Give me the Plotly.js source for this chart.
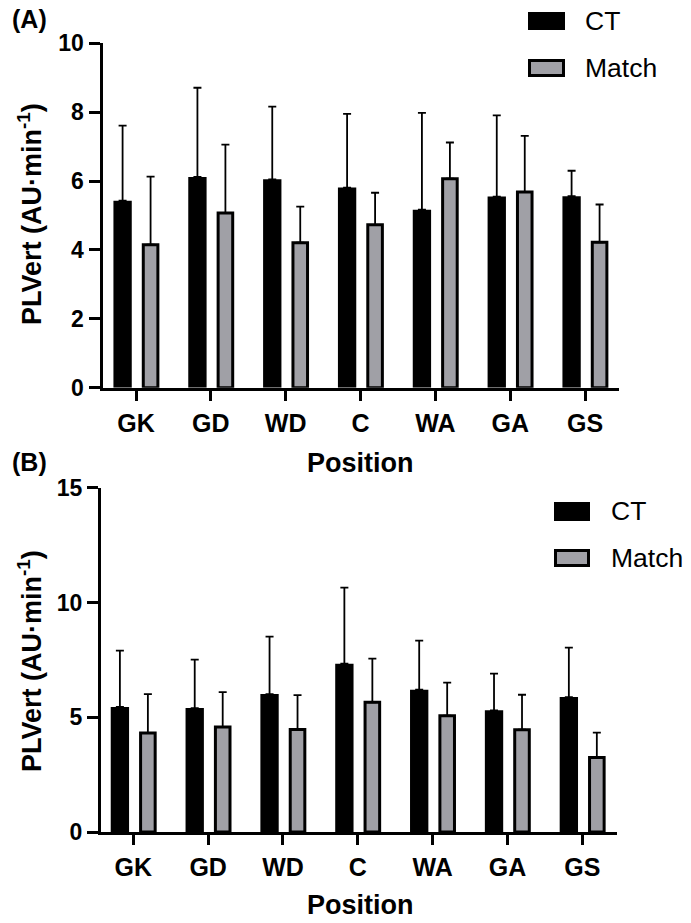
<!DOCTYPE html>
<html>
<head>
<meta charset="utf-8">
<script src="https://cdn.plot.ly/plotly-3.0.1.min.js"></script>
<style>html,body{margin:0;padding:0;background:#fff;}#chart{width:691px;height:923px;}</style>
</head>
<body>
<div id="chart"></div>
<script>
const categories = ['GK', 'GD', 'WD', 'C', 'WA', 'GA', 'GS'];
const seriesNames = ['CT', 'Match'];

// Panel A
const ctMeanA = [5.43, 6.12, 6.05, 5.81, 5.17, 5.55, 5.56];
const ctSdA = [2.18, 2.59, 2.11, 2.14, 2.81, 2.36, 0.74];
const matchMeanA = [4.15, 5.07, 4.21, 4.73, 6.07, 5.68, 4.22];
const matchSdA = [1.98, 1.99, 1.05, 0.93, 1.05, 1.63, 1.10];

// Panel B
const ctMeanB = [5.45, 5.40, 6.01, 7.33, 6.20, 5.30, 5.88];
const ctSdB = [2.45, 2.11, 2.50, 3.32, 2.14, 1.60, 2.15];
const matchMeanB = [4.31, 4.57, 4.47, 5.65, 5.07, 4.46, 3.25];
const matchSdB = [1.70, 1.52, 1.49, 1.90, 1.44, 1.52, 1.08];

const yTitle = '<b>PLVert (AU·min<sup>-1</sup>)</b>';
const xTitle = '<b>Position</b>';

const W = 691, H = 923;
const FONT = 'Liberation Sans, Arial, sans-serif';
const GRAY = '#a0a0a6';
const px = v => v / W;
const py = v => 1 - v / H;

function ctTrace(mean, sd, xa, ya) {
  return {
    type: 'bar', x: categories, y: mean, name: seriesNames[0],
    xaxis: xa, yaxis: ya, width: 0.245, offset: -0.302,
    marker: {color: '#000000', line: {width: 0}},
    error_y: {type: 'data', symmetric: false, array: sd, arrayminus: sd.map(() => 0),
              color: '#000000', thickness: 1.8, width: 4},
    showlegend: false, hoverinfo: 'skip'
  };
}
function matchTrace(mean, sd, xa, ya) {
  return {
    type: 'bar', x: categories, y: mean, name: seriesNames[1],
    xaxis: xa, yaxis: ya, width: 0.195, offset: 0.097,
    marker: {color: GRAY, line: {color: '#000000', width: 3}},
    error_y: {type: 'data', symmetric: false, array: sd, arrayminus: sd.map(() => 0),
              color: '#000000', thickness: 1.8, width: 4},
    showlegend: false, hoverinfo: 'skip'
  };
}

const data = [
  ctTrace(ctMeanA, ctSdA, 'x', 'y'),
  matchTrace(matchMeanA, matchSdA, 'x', 'y'),
  ctTrace(ctMeanB, ctSdB, 'x2', 'y2'),
  matchTrace(matchMeanB, matchSdB, 'x2', 'y2')
];

function xAxis(domain, range, anchor) {
  return {
    domain: domain, range: range, anchor: anchor, type: 'category',
    showline: true, linecolor: '#000', linewidth: 3, mirror: false,
    ticks: 'outside', ticklen: 10, tickwidth: 3, tickcolor: '#000',
    showgrid: false, zeroline: false, fixedrange: true,
    tickfont: {family: FONT, size: 25, color: '#000', weight: 'bold'},
    ticklabelstandoff: 1
  };
}
function yAxis(domain, range, dtick, anchor) {
  return {
    domain: domain, range: range, dtick: dtick, tick0: 0, anchor: anchor,
    showline: true, linecolor: '#000', linewidth: 3,
    ticks: 'outside', ticklen: 11, tickwidth: 3, tickcolor: '#000',
    showgrid: false, zeroline: false, fixedrange: true,
    tickfont: {family: FONT, size: 23, color: '#000', weight: 'bold'}
  };
}

function legendShapes(x0, x1, yCT, yM) {
  return [
    {type: 'rect', xref: 'paper', yref: 'paper', x0: px(x0), x1: px(x1), y0: py(yCT[0]), y1: py(yCT[1]),
     fillcolor: '#000', line: {width: 0}},
    {type: 'rect', xref: 'paper', yref: 'paper', x0: px(x0 + 1.5), x1: px(x1 - 1.5), y0: py(yM[0] + 1.5), y1: py(yM[1] - 1.5),
     fillcolor: GRAY, line: {color: '#000', width: 3}}
  ];
}
function legendTexts(x, yCT, yM) {
  return [
    {text: seriesNames[0], xref: 'paper', yref: 'paper', x: px(x), y: py(yCT), xanchor: 'left', yanchor: 'middle',
     showarrow: false, font: {family: FONT, size: 26.5, color: '#000'}},
    {text: seriesNames[1], xref: 'paper', yref: 'paper', x: px(x), y: py(yM), xanchor: 'left', yanchor: 'middle',
     showarrow: false, font: {family: FONT, size: 26.5, color: '#000'}}
  ];
}

const boldTitle = {family: FONT, size: 27, color: '#000'};

const layout = {
  width: W, height: H,
  margin: {l: 0, r: 0, t: 0, b: 0},
  paper_bgcolor: '#fff', plot_bgcolor: '#fff',
  barmode: 'overlay',
  showlegend: false,
  xaxis: xAxis([px(102.5), px(619)], [-0.448, 6.454], 'y'),
  yaxis: yAxis([1 - 387.7 / H, 1 - 43.3 / H], [0, 10], 2, 'x'),
  xaxis2: xAxis([px(101), px(616.7)], [-0.432, 6.46], 'y2'),
  yaxis2: yAxis([1 - 832 / H, 1 - 487.7 / H], [0, 15], 5, 'x2'),
  shapes: [].concat(
    legendShapes(528, 565, [12, 30], [59, 77]),
    legendShapes(554, 590, [502, 521], [549, 567])
  ),
  annotations: [].concat(
    legendTexts(583, 21, 68),
    legendTexts(609, 511, 558),
    [
      {text: '<b>(A)</b>', xref: 'paper', yref: 'paper', x: px(10), y: py(19), xanchor: 'left', yanchor: 'middle',
       showarrow: false, font: {family: FONT, size: 25, color: '#000'}},
      {text: '<b>(B)</b>', xref: 'paper', yref: 'paper', x: px(10), y: py(462), xanchor: 'left', yanchor: 'middle',
       showarrow: false, font: {family: FONT, size: 25, color: '#000'}},
      {text: yTitle, xref: 'paper', yref: 'paper', x: px(30), y: py(214), xanchor: 'center', yanchor: 'middle',
       textangle: -90, showarrow: false, font: boldTitle},
      {text: yTitle, xref: 'paper', yref: 'paper', x: px(30), y: py(661), xanchor: 'center', yanchor: 'middle',
       textangle: -90, showarrow: false, font: boldTitle},
      {text: xTitle, xref: 'paper', yref: 'paper', x: px(360), y: py(463), xanchor: 'center', yanchor: 'middle',
       showarrow: false, font: boldTitle},
      {text: xTitle, xref: 'paper', yref: 'paper', x: px(360), y: py(905), xanchor: 'center', yanchor: 'middle',
       showarrow: false, font: boldTitle}
    ]
  )
};

Plotly.newPlot('chart', data, layout, {staticPlot: true, displayModeBar: false});
</script>
</body>
</html>
